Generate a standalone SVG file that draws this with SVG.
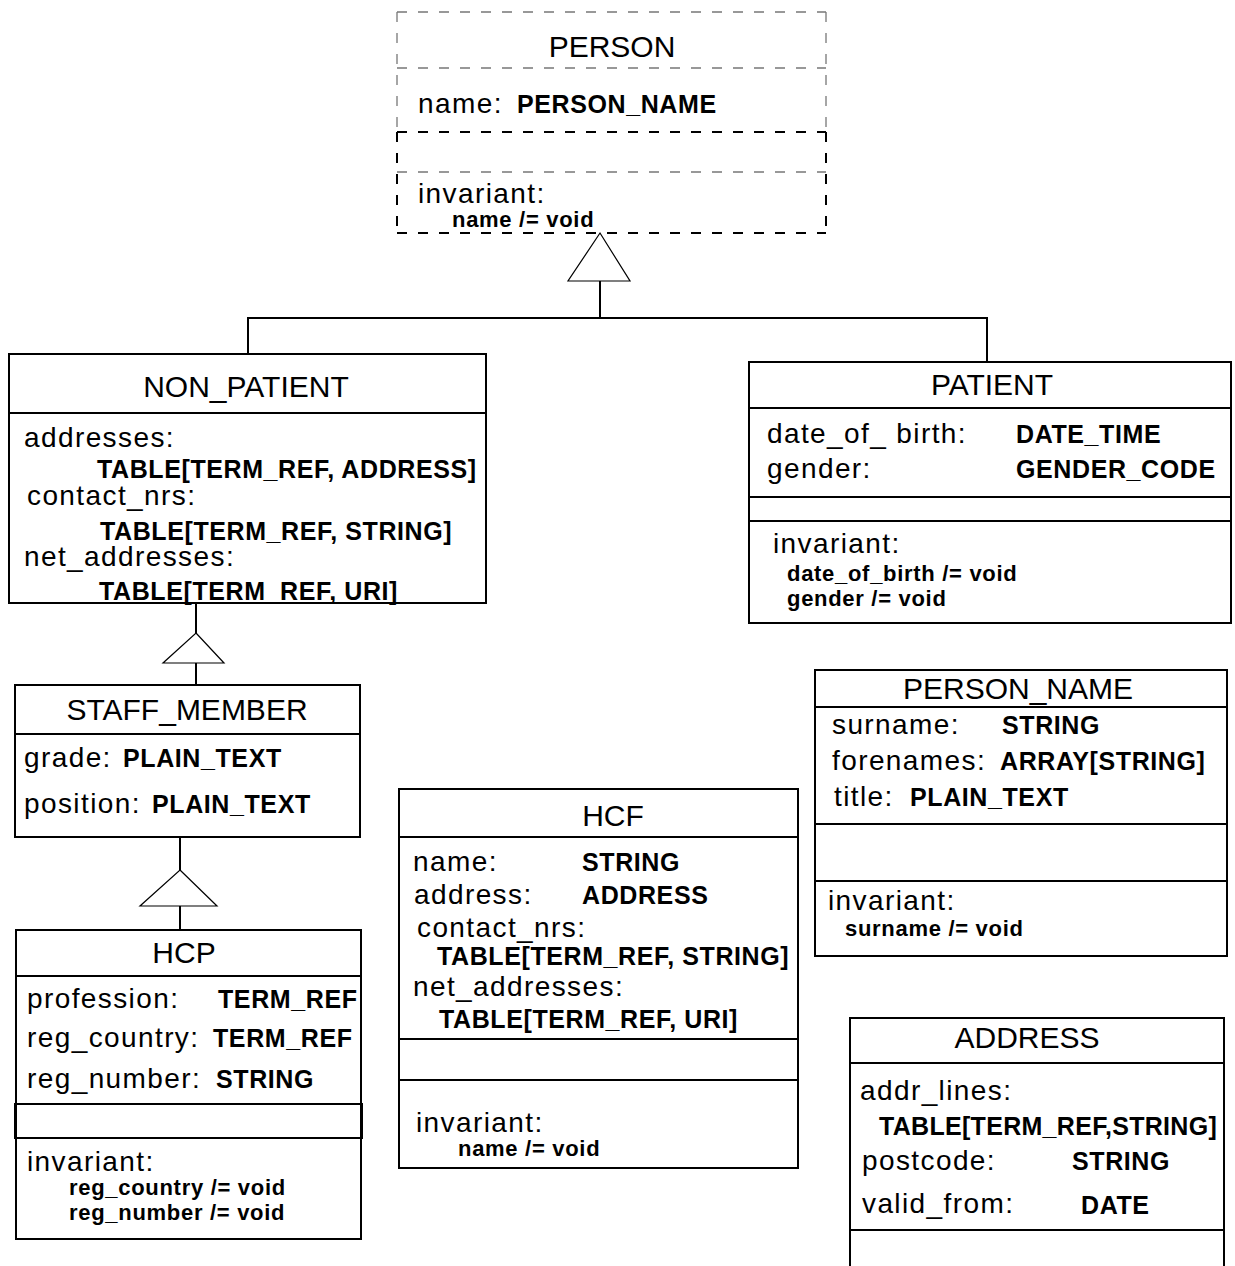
<svg xmlns="http://www.w3.org/2000/svg" width="1235" height="1266" viewBox="0 0 1235 1266">
  <style>
    .box { fill: none; stroke: #000; stroke-width: 2; }
    .div { stroke: #000; stroke-width: 2; }
    .dash-light { fill: none; stroke: #777; stroke-width: 1.3; stroke-dasharray: 10 11; }
    .dash-dark { fill: none; stroke: #000; stroke-width: 2; stroke-dasharray: 10 11; }
    .link { fill: none; stroke: #000; stroke-width: 2; }
    .gen { fill: #fff; stroke: #000; stroke-width: 1.2; }
    text { font-family: "Liberation Sans", Arial, Helvetica, sans-serif; fill: #000; }
    .title { font-size: 30px; text-anchor: middle; }
    .attr { font-size: 28px; letter-spacing: 1.4px; }
    .type { font-size: 25px; font-weight: bold; letter-spacing: 0.6px; }
    .inv { font-size: 22px; font-weight: bold; letter-spacing: 0.7px; }
  </style>

  <rect width="1235" height="1266" fill="#fff"/>

  <!-- inheritance connectors -->
  <g id="connectors">
    <!-- NON_PATIENT / PATIENT up to PERSON -->
    <polyline class="link" points="248,354 248,318 987,318 987,362"/>
    <line class="link" x1="600" y1="318" x2="600" y2="281"/>
    <polygon class="gen" points="600,233 630,281 568,281"/>
    <!-- STAFF_MEMBER up to NON_PATIENT -->
    <line class="link" x1="196" y1="603" x2="196" y2="633"/>
    <line class="link" x1="196" y1="663" x2="196" y2="685"/>
    <polygon class="gen" points="196,633 224,663 163,663"/>
    <!-- HCP up to STAFF_MEMBER -->
    <line class="link" x1="180" y1="837" x2="180" y2="870"/>
    <line class="link" x1="180" y1="906" x2="180" y2="930"/>
    <polygon class="gen" points="180,870 217,906 140,906"/>
  </g>

  <!-- abstract class, drawn dashed -->
  <g id="person">
    <line class="dash-light" x1="397" y1="12" x2="826" y2="12"/>
    <line class="dash-light" x1="397" y1="12" x2="397" y2="132"/>
    <line class="dash-light" x1="826" y1="12" x2="826" y2="132"/>
    <line class="dash-light" x1="397" y1="68" x2="826" y2="68"/>
    <line class="dash-dark" x1="397" y1="132" x2="826" y2="132"/>
    <line class="dash-light" x1="397" y1="172" x2="826" y2="172"/>
    <line class="dash-dark" x1="397" y1="132" x2="397" y2="233"/>
    <line class="dash-dark" x1="826" y1="132" x2="826" y2="233"/>
    <line class="dash-dark" x1="397" y1="233" x2="826" y2="233"/>
    <text class="title" x="612" y="57">PERSON</text>
    <text class="attr" x="418" y="113">name:</text>
    <text class="type" x="517" y="113">PERSON_NAME</text>
    <text class="attr" x="418" y="203">invariant:</text>
    <text class="inv" x="452" y="227">name /= void</text>
  </g>

  <g id="non_patient">
    <rect class="box" x="9" y="354" width="477" height="249"/>
    <line class="div" x1="9" y1="413" x2="486" y2="413"/>
    <text class="title" x="246" y="397">NON_PATIENT</text>
    <text class="attr" x="24" y="447">addresses:</text>
    <text class="type" x="97" y="478">TABLE[TERM_REF, ADDRESS]</text>
    <text class="attr" x="27" y="505">contact_nrs:</text>
    <text class="type" x="100" y="540">TABLE[TERM_REF, STRING]</text>
    <text class="attr" x="24" y="566">net_addresses:</text>
    <text class="type" x="99" y="600">TABLE[TERM_REF, URI]</text>
  </g>

  <g id="patient">
    <rect class="box" x="749" y="362" width="482" height="261"/>
    <line class="div" x1="749" y1="408" x2="1231" y2="408"/>
    <line class="div" x1="749" y1="497" x2="1231" y2="497"/>
    <line class="div" x1="749" y1="521" x2="1231" y2="521"/>
    <text class="title" x="992" y="395">PATIENT</text>
    <text class="attr" x="767" y="443">date_of_ birth:</text>
    <text class="type" x="1016" y="443">DATE_TIME</text>
    <text class="attr" x="767" y="478">gender:</text>
    <text class="type" x="1016" y="478">GENDER_CODE</text>
    <text class="attr" x="773" y="553">invariant:</text>
    <text class="inv" x="787" y="581">date_of_birth /= void</text>
    <text class="inv" x="787" y="606">gender /= void</text>
  </g>

  <g id="staff_member">
    <rect class="box" x="15" y="685" width="345" height="152"/>
    <line class="div" x1="15" y1="734" x2="360" y2="734"/>
    <text class="title" x="187" y="720">STAFF_MEMBER</text>
    <text class="attr" x="24" y="767">grade:</text>
    <text class="type" x="123" y="767">PLAIN_TEXT</text>
    <text class="attr" x="24" y="813">position:</text>
    <text class="type" x="152" y="813">PLAIN_TEXT</text>
  </g>

  <g id="hcp">
    <rect class="box" x="16" y="930" width="345" height="309"/>
    <line class="div" x1="16" y1="976" x2="361" y2="976"/>
    <rect class="box" x="15" y="1104" width="347" height="34"/>
    <text class="title" x="184" y="963">HCP</text>
    <text class="attr" x="27" y="1008">profession:</text>
    <text class="type" x="218" y="1008">TERM_REF</text>
    <text class="attr" x="27" y="1047">reg_country:</text>
    <text class="type" x="213" y="1047">TERM_REF</text>
    <text class="attr" x="27" y="1088">reg_number:</text>
    <text class="type" x="216" y="1088">STRING</text>
    <text class="attr" x="27" y="1171">invariant:</text>
    <text class="inv" x="69" y="1195">reg_country /= void</text>
    <text class="inv" x="69" y="1220">reg_number /= void</text>
  </g>

  <g id="hcf">
    <rect class="box" x="399" y="789" width="399" height="379"/>
    <line class="div" x1="399" y1="837" x2="798" y2="837"/>
    <line class="div" x1="399" y1="1039" x2="798" y2="1039"/>
    <line class="div" x1="399" y1="1080" x2="798" y2="1080"/>
    <text class="title" x="613" y="826">HCF</text>
    <text class="attr" x="413" y="871">name:</text>
    <text class="type" x="582" y="871">STRING</text>
    <text class="attr" x="414" y="904">address:</text>
    <text class="type" x="582" y="904">ADDRESS</text>
    <text class="attr" x="417" y="937">contact_nrs:</text>
    <text class="type" x="437" y="965">TABLE[TERM_REF, STRING]</text>
    <text class="attr" x="413" y="996">net_addresses:</text>
    <text class="type" x="439" y="1028">TABLE[TERM_REF, URI]</text>
    <text class="attr" x="416" y="1132">invariant:</text>
    <text class="inv" x="458" y="1156">name /= void</text>
  </g>

  <g id="person_name">
    <rect class="box" x="815" y="670" width="412" height="286"/>
    <line class="div" x1="815" y1="707" x2="1227" y2="707"/>
    <line class="div" x1="815" y1="824" x2="1227" y2="824"/>
    <line class="div" x1="815" y1="881" x2="1227" y2="881"/>
    <text class="title" x="1018" y="699">PERSON_NAME</text>
    <text class="attr" x="832" y="734">surname:</text>
    <text class="type" x="1002" y="734">STRING</text>
    <text class="attr" x="832" y="770">forenames:</text>
    <text class="type" x="1000" y="770">ARRAY[STRING]</text>
    <text class="attr" x="834" y="806">title:</text>
    <text class="type" x="910" y="806">PLAIN_TEXT</text>
    <text class="attr" x="828" y="910">invariant:</text>
    <text class="inv" x="845" y="936">surname /= void</text>
  </g>

  <g id="address">
    <rect class="box" x="850" y="1018" width="374" height="270"/>
    <line class="div" x1="850" y1="1063" x2="1224" y2="1063"/>
    <line class="div" x1="850" y1="1230" x2="1224" y2="1230"/>
    <text class="title" x="1027" y="1048">ADDRESS</text>
    <text class="attr" x="860" y="1100">addr_lines:</text>
    <text class="type" x="879" y="1135" style="letter-spacing:0.3px">TABLE[TERM_REF,STRING]</text>
    <text class="attr" x="862" y="1170">postcode:</text>
    <text class="type" x="1072" y="1170">STRING</text>
    <text class="attr" x="862" y="1213">valid_from:</text>
    <text class="type" x="1081" y="1214">DATE</text>
  </g>
</svg>
